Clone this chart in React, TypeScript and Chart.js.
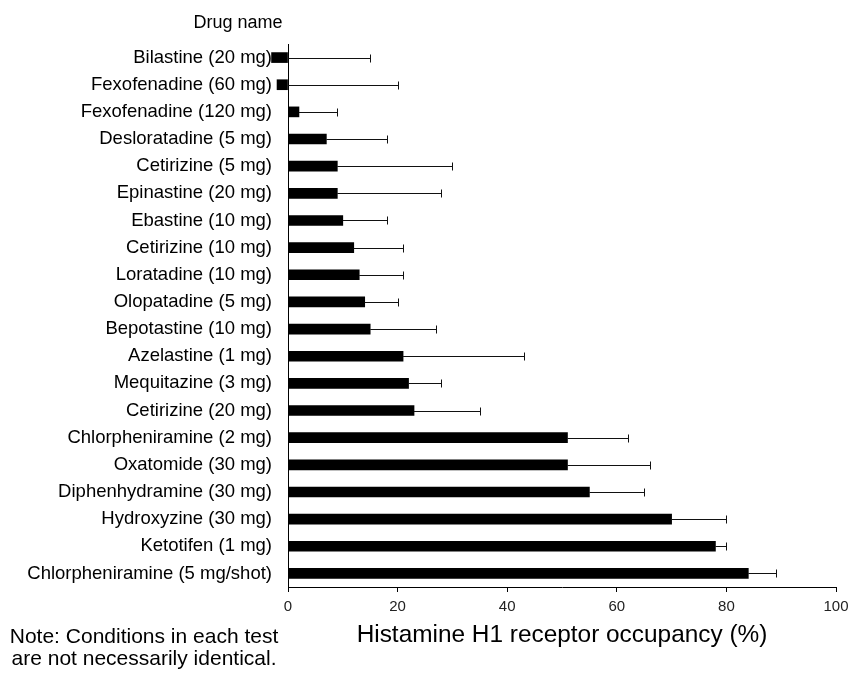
import React, { useEffect, useRef } from "react";
import { Chart, registerables } from "chart.js";

Chart.register(...registerables);

const drugNames: string[] = [
  "Bilastine (20 mg)",
  "Fexofenadine (60 mg)",
  "Fexofenadine (120 mg)",
  "Desloratadine (5 mg)",
  "Cetirizine (5 mg)",
  "Epinastine (20 mg)",
  "Ebastine (10 mg)",
  "Cetirizine (10 mg)",
  "Loratadine (10 mg)",
  "Olopatadine (5 mg)",
  "Bepotastine (10 mg)",
  "Azelastine (1 mg)",
  "Mequitazine (3 mg)",
  "Cetirizine (20 mg)",
  "Chlorpheniramine (2 mg)",
  "Oxatomide (30 mg)",
  "Diphenhydramine (30 mg)",
  "Hydroxyzine (30 mg)",
  "Ketotifen (1 mg)",
  "Chlorpheniramine (5 mg/shot)",
];

const occupancy: number[] = [-3, -2, 2, 7, 9, 9, 10, 12, 13, 14, 15, 21, 22, 23, 51, 51, 55, 70, 78, 84];
const upperError: number[] = [15, 20, 9, 18, 30, 28, 18, 21, 21, 20, 27, 43, 28, 35, 62, 66, 65, 80, 80, 89];

const xTicks: number[] = [0, 20, 40, 60, 80, 100];

const yAxisTitle = "Drug name";
const xAxisTitle = "Histamine H1 receptor occupancy (%)";
const noteLines: string[] = ["Note: Conditions in each test", "are not necessarily identical."];

const FONT = "'Liberation Sans', Arial, sans-serif";

const errorBarPlugin = {
  id: "errorBars",
  afterDatasetsDraw(chart: any) {
    const ctx = chart.ctx;
    const meta = chart.getDatasetMeta(0);
    const xs = chart.scales.x;
    ctx.save();
    ctx.strokeStyle = "#111";
    ctx.lineWidth = 1;
    meta.data.forEach((bar: any, i: number) => {
      const y = Math.round(bar.y) + 0.5;
      const x0 = xs.getPixelForValue(Math.max(occupancy[i], 0));
      const x1 = Math.round(xs.getPixelForValue(upperError[i])) + 0.5;
      ctx.beginPath();
      ctx.moveTo(x0, y);
      ctx.lineTo(x1, y);
      ctx.moveTo(x1, y - 4);
      ctx.lineTo(x1, y + 4);
      ctx.stroke();
    });
    ctx.restore();
  },
};

const textPlugin = {
  id: "extraTexts",
  afterDraw(chart: any) {
    const ctx = chart.ctx;
    ctx.save();
    ctx.fillStyle = "#000";
    ctx.textAlign = "center";
    ctx.textBaseline = "middle";
    ctx.font = `18px ${FONT}`;
    ctx.fillText(yAxisTitle, 238, 23);
    ctx.font = `21px ${FONT}`;
    ctx.fillText(noteLines[0], 144, 637);
    ctx.fillText(noteLines[1], 144, 659);
    ctx.restore();
  },
};

export default function App() {
  const canvasRef = useRef<HTMLCanvasElement | null>(null);

  useEffect(() => {
    if (!canvasRef.current) return;
    const chart = new Chart(canvasRef.current, {
      type: "bar",
      data: {
        labels: drugNames,
        datasets: [
          {
            data: occupancy,
            backgroundColor: "#000",
            borderWidth: 0,
            barThickness: 10,
            clip: false as any,
          },
        ],
      },
      options: {
        indexAxis: "y",
        responsive: false,
        animation: false,
        layout: { padding: { top: 44, right: 0, left: 0, bottom: 0 } },
        plugins: {
          legend: { display: false },
          tooltip: { enabled: false },
        },
        scales: {
          y: {
            type: "category",
            grid: { display: false, drawTicks: false },
            border: { display: true, color: "#000", width: 1 },
            ticks: {
              color: "#000",
              padding: 16,
              font: { family: FONT, size: 18.5 },
              autoSkip: false,
            },
            afterFit: (s: any) => {
              s.width = 288;
            },
          },
          x: {
            type: "linear",
            min: 0,
            max: 100,
            afterBuildTicks: (s: any) => {
              s.ticks = xTicks.map((v) => ({ value: v }));
            },
            grid: {
              display: true,
              drawOnChartArea: false,
              drawTicks: true,
              tickLength: 5,
              color: "#000",
            },
            border: { display: true, color: "#000", width: 1 },
            ticks: {
              color: "#222",
              padding: 6,
              font: { family: FONT, size: 15 },
            },
            title: {
              display: true,
              text: xAxisTitle,
              color: "#000",
              font: { family: FONT, size: 24.4 },
              padding: { top: 0, bottom: 23 },
            },
            afterFit: (s: any) => {
              s.height = 86;
              s.paddingLeft = 0;
              s.paddingRight = 13;
            },
          },
        },
      },
      plugins: [errorBarPlugin, textPlugin],
    });
    return () => chart.destroy();
  }, []);

  return (
    <div style={{ position: "fixed", left: 0, top: 0, width: 849, height: 673, background: "#fff" }}>
      <canvas ref={canvasRef} width={849} height={673} style={{ display: "block" }} />
    </div>
  );
}
